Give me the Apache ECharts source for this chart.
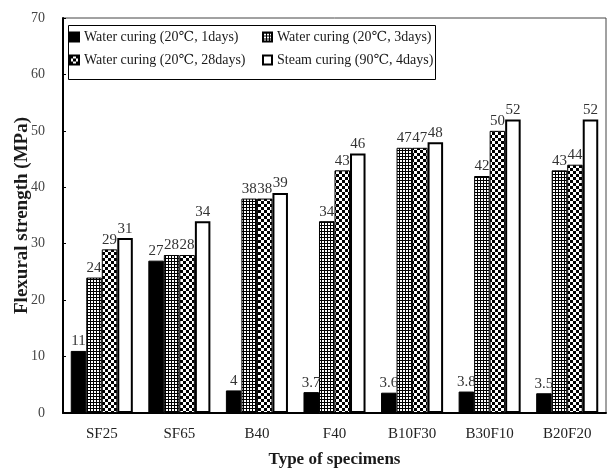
<!DOCTYPE html>
<html>
<head>
<meta charset="utf-8">
<script src="https://cdn.jsdelivr.net/npm/echarts@6/dist/echarts.min.js"></script>
<style>
  html, body { margin: 0; padding: 0; background: #fff; }
  #chart { width: 608px; height: 473px; }
</style>
</head>
<body>
<div id="chart"></div>
<script>
// Specimen types along the x axis
const categories = ['SF25', 'SF65', 'B40', 'F40', 'B10F30', 'B30F10', 'B20F20'];

// Flexural strength (MPa) per curing regime
const seriesNames = [
  'Water curing (20℃, 1days)',
  'Water curing (20℃, 3days)',
  'Water curing (20℃, 28days)',
  'Steam curing (90℃, 4days)'
];
const water1d  = [11, 27, 4, 3.7, 3.6, 3.8, 3.5];
const water3d  = [24, 28, 38, 34, 47, 42, 43];
const water28d = [29, 28, 38, 43, 47, 50, 44];
const steam4d  = [31, 34, 39, 46, 48, 52, 52];

// Y axis scale
const yMin = 0, yMax = 70, yStep = 10;

const FONT = '"Liberation Serif", "DejaVu Serif", "Noto Sans CJK SC", serif';

// Fill patterns: fine grid and checkerboard
function gridPattern() {
  const c = document.createElement('canvas');
  c.width = 3; c.height = 3;
  const g = c.getContext('2d');
  g.fillStyle = '#000'; g.fillRect(0, 0, 3, 3);
  g.fillStyle = '#fff'; g.fillRect(1, 1, 2, 2);
  return { image: c, repeat: 'repeat' };
}
function checkerPattern() {
  const s = 3;
  const c = document.createElement('canvas');
  c.width = s * 2; c.height = s * 2;
  const g = c.getContext('2d');
  g.fillStyle = '#fff'; g.fillRect(0, 0, s * 2, s * 2);
  g.fillStyle = '#000';
  g.fillRect(0, 0, s, s);
  g.fillRect(s, s, s, s);
  return { image: c, repeat: 'repeat' };
}

const fills = ['#000', gridPattern(), checkerPattern(), '#fff'];
const borderWidths = [1, 1, 1, 2];
const values = [water1d, water3d, water28d, steam4d];

const chart = echarts.init(document.getElementById('chart'), null, { renderer: 'canvas' });

const series = values.map((v, i) => ({
  name: seriesNames[i],
  type: 'bar',
  data: v,
  barGap: '0%',
  barCategoryGap: '20%',
  itemStyle: { color: fills[i], borderColor: '#000', borderWidth: borderWidths[i] },
  label: {
    show: true,
    position: 'top',
    distance: 2,
    fontFamily: FONT,
    fontSize: 15,
    color: '#333'
  },
  emphasis: { disabled: true }
}));

const legendText = { fontFamily: FONT, fontSize: 14, color: '#1a1a1a' };

chart.setOption({
  animation: false,
  backgroundColor: '#fff',
  grid: {
    left: 63, right: 2, top: 18, bottom: 58,
    show: true, borderColor: '#444', borderWidth: 1, backgroundColor: 'transparent'
  },
  legend: [
    {
      data: [seriesNames[0], seriesNames[2]],
      orient: 'vertical', left: 69, top: 30,
      itemWidth: 9, itemHeight: 9, itemGap: 9,
      icon: 'rect', textStyle: legendText, padding: 0
    },
    {
      data: [seriesNames[1], seriesNames[3]],
      orient: 'vertical', left: 262, top: 30,
      itemWidth: 9, itemHeight: 9, itemGap: 9,
      icon: 'rect', textStyle: legendText, padding: 0
    }
  ],
  graphic: [{
    type: 'rect',
    left: 66, top: 23,
    shape: { width: 367, height: 54 },
    style: { fill: 'none', stroke: '#000', lineWidth: 1 },
    z: 10
  }],
  xAxis: {
    type: 'category',
    data: categories,
    name: 'Type of specimens',
    nameLocation: 'middle',
    nameGap: 38,
    nameMoveOverlap: false,
    nameTextStyle: { fontFamily: FONT, fontSize: 17, fontWeight: 'bold', color: '#1a1a1a' },
    axisLine: { lineStyle: { color: '#000', width: 2 } },
    axisTick: { inside: true, length: 4, lineStyle: { color: '#000', width: 2 } },
    axisLabel: { fontFamily: FONT, fontSize: 15, color: '#222', margin: 14 }
  },
  yAxis: {
    type: 'value',
    min: yMin, max: yMax, interval: yStep,
    name: 'Flexural strength (MPa)',
    nameLocation: 'middle',
    nameGap: 31,
    nameMoveOverlap: false,
    nameTextStyle: { fontFamily: FONT, fontSize: 19, fontWeight: 'bold', color: '#1a1a1a' },
    axisLine: { show: true, lineStyle: { color: '#000', width: 2 } },
    axisTick: { show: true, inside: true, length: 3, lineStyle: { color: '#000', width: 1 } },
    axisLabel: { fontFamily: FONT, fontSize: 14, color: '#444', margin: 18, padding: [5, 0, 0, 0] },
    splitLine: { show: false }
  },
  series: series
});
</script>
</body>
</html>
